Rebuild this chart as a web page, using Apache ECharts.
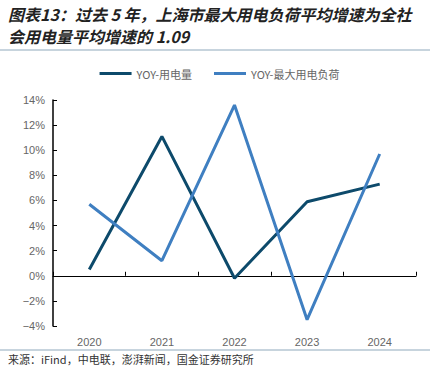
<!DOCTYPE html>
<html>
<head>
<meta charset="utf-8">
<script src="https://cdn.jsdelivr.net/npm/echarts@6/dist/echarts.min.js"></script>
<style>
  html, body { margin: 0; padding: 0; background: #fff; }
  #chart { width: 439px; height: 366px; }
</style>
</head>
<body>
<div id="chart"></div>
<script>
var years = ['2020', '2021', '2022', '2023', '2024'];
var yoyPower = [0.5, 11.1, -0.2, 5.9, 7.3];      // YOY-用电量
var yoyMaxLoad = [5.7, 1.2, 13.6, -3.5, 9.7];    // YOY-最大用电负荷
var seriesNames = ['YOY-用电量', 'YOY-最大用电负荷'];

var dark = '#0d4a6b';
var light = '#3f7fc1';
var ruleColor = '#8fa9bc';

var chart = echarts.init(document.getElementById('chart'), null, { renderer: 'svg' });
chart.setOption({
  animation: false,
  graphic: [
    {
      type: 'text', left: 8, top: 3,
      style: {
        text: '图表13：过去 5 年，上海市最大用电负荷平均增速为全社\n会用电量平均增速的 1.09',
        font: 'italic bold 16px "Noto Sans CJK SC"',
        fill: '#222', lineHeight: 22
      }
    },
    { type: 'line', shape: { x1: 0, y1: 50, x2: 430, y2: 50 }, style: { stroke: ruleColor, lineWidth: 1 } },
    { type: 'line', shape: { x1: 0, y1: 350, x2: 430, y2: 350 }, style: { stroke: ruleColor, lineWidth: 1 } },
    {
      type: 'text', left: 8, top: 353,
      style: { text: '来源：iFind，中电联，澎湃新闻，国金证券研究所', font: '11px "Noto Sans CJK SC"', fill: '#333' }
    }
  ],
  legend: {
    data: seriesNames,
    top: 63,
    left: 'center',
    icon: 'rect',
    itemWidth: 32,
    itemHeight: 3,
    itemGap: 22,
    textStyle: { color: '#666', fontSize: 11, fontFamily: '"Noto Sans CJK SC"' }
  },
  grid: { left: 53, right: 23, top: 100, bottom: 40 },
  xAxis: {
    type: 'category',
    data: years,
    boundaryGap: true,
    axisLine: { onZero: true, lineStyle: { color: '#000', width: 1 } },
    axisTick: { show: true, inside: true, length: 4, lineStyle: { color: '#000' } },
    axisLabel: { color: '#666', fontSize: 11, margin: 10, fontFamily: 'Arial, "Liberation Sans"' }
  },
  yAxis: {
    type: 'value',
    min: -4,
    max: 14,
    interval: 2,
    axisLine: { show: true, lineStyle: { color: '#000', width: 1.5 } },
    axisTick: { show: true, inside: true, length: 4, lineStyle: { color: '#000' } },
    splitLine: { show: false },
    axisLabel: {
      color: '#666', fontSize: 11, margin: 8, fontFamily: 'Arial, "Liberation Sans"',
      formatter: function (v) { return (v < 0 ? '\u2212' + Math.abs(v) : v) + '%'; }
    }
  },
  series: [
    {
      name: seriesNames[0], type: 'line', data: yoyPower,
      symbol: 'none', color: dark,
      lineStyle: { color: dark, width: 3 }
    },
    {
      name: seriesNames[1], type: 'line', data: yoyMaxLoad,
      symbol: 'none', color: light,
      lineStyle: { color: light, width: 3 }
    }
  ]
});
window.addEventListener('resize', function () { chart.resize(); });
</script>
</body>
</html>
